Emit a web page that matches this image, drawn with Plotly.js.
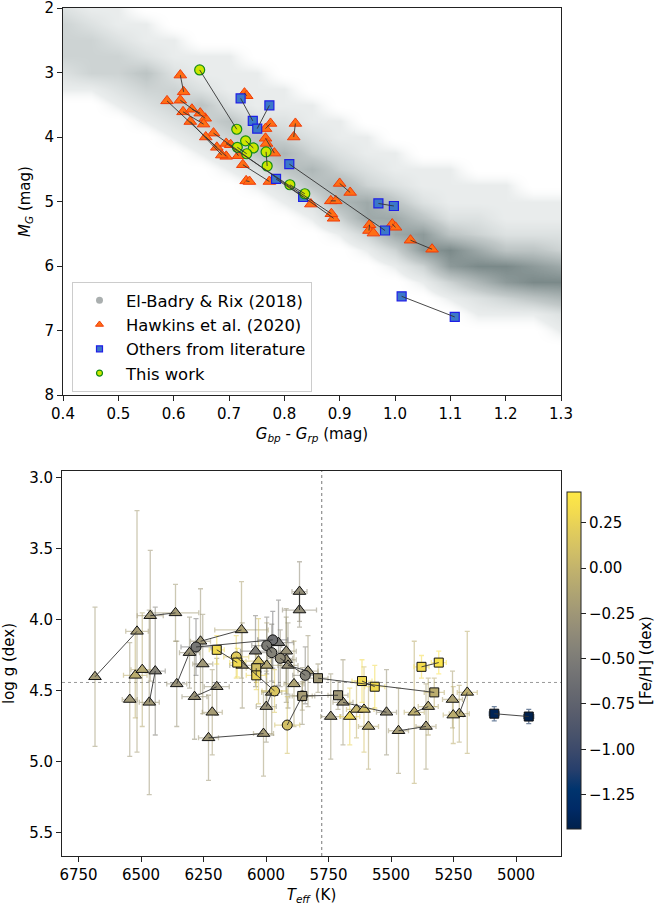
<!DOCTYPE html>
<html><head><meta charset="utf-8">
<script src="https://cdn.plot.ly/plotly-3.0.1.min.js"></script>
<style>html,body{margin:0;padding:0;background:#fff}#chart{width:658px;height:906px}</style>
</head><body><div id="chart"></div>
<script>
// ---------- Top panel: background density of El-Badry & Rix (2018) sample ----------
const bgColour = [0.40,0.45,0.50,0.55,0.60,0.65,0.70,0.75,0.80,0.85,0.90,0.95,1.00,1.05,1.10,1.15,1.20,1.25,1.30];
const bgMag = [2.00,2.25,2.50,2.75,3.00,3.25,3.50,3.75,4.00,4.25,4.50,4.75,5.00,5.25,5.50,5.75,6.00,6.25,6.50,6.75,7.00,7.25,7.50,7.75,8.00];
const bgDensityRows = [
"2110000000000000000",
"3211000000000000000",
"3321100000000000000",
"3332111000000000000",
"2334211100000000000",
"1123321110000000000",
"0012342111000000000",
"0001234221100000000",
"0000123432110000000",
"0000012453211000000",
"0000001245321110000",
"0000000124532111100",
"0000000012564211111",
"0000000001366422111",
"0000000000136743222",
"0000000000013786443",
"0000000000001378876",
"0000000000000135788",
"0000000000000012345",
"0000000000000001112",
"0000000000000000001",
"0000000000000000000",
"0000000000000000000",
"0000000000000000000",
"0000000000000000000"];

// ---------- Top panel: Hawkins et al. (2020) ----------
const hawkColour = [0.612,0.618,0.588,0.695,0.612,0.657,0.617,0.654,0.633,0.648,0.630,0.687,0.728,0.732,0.672,0.889,0.658,0.678,0.695,0.885,0.703,0.717,0.725,0.773,0.782,0.766,0.775,0.766,0.768,0.731,0.737,0.820,0.817,0.900,0.919,0.848,0.884,0.893,0.954,0.953,0.961,0.995,1.001,1.028,1.067];
const hawkMag    = [3.04,3.30,3.44,4.30,3.43,3.71,3.61,3.80,3.57,3.63,3.76,4.28,3.32,3.36,3.94,5.26,4.00,4.16,4.10,5.19,4.12,4.29,4.43,4.69,4.25,4.02,3.79,3.87,4.10,4.68,4.69,3.79,4.00,4.72,4.86,5.04,4.99,4.99,5.36,5.45,5.49,5.35,5.40,5.60,5.74];
const hawkPair   = [1,1,2,2,3,3,4,4,5,5,6,6,7,7,8,8,9,9,10,10,11,11,12,12,13,13,14,14,0,15,15,16,16,17,17,0,18,18,19,19,0,20,20,21,21];

// ---------- Top panel: Others from literature ----------
const otherColour = [0.721,0.773,0.743,0.751,0.809,0.785,0.834,0.970,0.998,0.982,1.012,1.108];
const otherMag    = [3.40,3.51,3.75,3.87,4.42,4.65,4.93,5.03,5.07,5.45,6.47,6.79];
const otherPair   = [1,2,1,2,3,4,4,5,5,3,6,6];

// ---------- Top panel: This work ----------
const thisColour = [0.647,0.714,0.730,0.715,0.744,0.732,0.767,0.769,0.810,0.837];
const thisMag    = [2.96,3.88,4.06,4.16,4.17,4.26,4.23,4.45,4.74,4.88];
const thisPair   = [1,1,2,3,2,3,4,4,5,5];

// ---------- Bottom panel: Hawkins et al. (2020) ----------
const hawkTeff    = [6684,6516,6463,6362,6523,6495,6443,6467,6545,6357,6306,6262,6098,6253,6095,5997,6030,6042,5950,5919,5919,5912,5866,5866,5832,5888,5977,5999,6286,6197,6230,6010,6215,5741,5692,5518,5638,5608,5665,5407,5351,5254,5195,5227,5251,5590,5470,5360];
const hawkLogg    = [4.40,4.08,3.97,3.95,4.39,4.35,4.36,4.58,4.56,4.45,4.23,4.15,4.07,4.31,4.32,4.32,4.29,4.22,4.16,4.22,4.28,4.32,3.80,3.93,4.36,4.45,4.51,4.61,4.54,4.47,4.83,4.80,4.65,4.68,4.58,4.65,4.63,4.63,4.68,4.65,4.61,4.56,4.51,4.66,4.67,4.75,4.78,4.75];
const hawkFeh     = [-0.22,-0.20,-0.24,-0.22,-0.05,-0.10,-0.45,-0.25,-0.25,-0.30,-0.30,-0.25,-0.15,-0.25,-0.25,-0.12,0.10,-0.50,-0.55,-0.30,-0.30,-0.30,-0.35,-0.35,-0.25,-0.15,-0.30,-0.30,-0.30,-0.30,-0.25,-0.20,-0.20,-0.25,-0.25,-0.30,0.00,0.10,0.25,-0.05,-0.10,-0.15,-0.05,-0.10,-0.05,-0.10,-0.20,-0.20];
const hawkTeffErr = [0,45,52,93,47,45,40,40,30,40,40,40,107,40,50,60,50,60,60,40,40,40,30,68,40,40,40,40,50,50,40,40,40,40,40,40,40,40,40,40,40,40,40,40,40,40,40,40];
const hawkLoggErr = [0.49,0.85,0.46,0.20,0.30,0.40,0.45,0.65,0.40,0.30,0.25,0.37,0.34,0.35,0.30,0.30,0.30,0.25,0.30,0.30,0.30,0.30,0.21,0.12,0.25,0.30,0.30,0.25,0.30,0.20,0.30,0.30,0.30,0.30,0.30,0.30,0.20,0.30,0.20,0.50,0.20,0.20,0.43,0.20,0.20,0.30,0.30,0.30];
const hawkPairB   = [1,1,2,2,0,0,3,3,0,4,4,5,5,0,0,0,0,0,0,0,0,6,7,7,6,0,8,8,9,9,10,10,0,0,11,11,0,0,0,12,12,0,13,13,0,0,14,14];

// ---------- Bottom panel: This work ----------
const thisTeff    = [6280,5973,5997,5977,5943,5843,6119,5966,5855,5915];
const thisLogg    = [4.19,4.14,4.18,4.23,4.27,4.39,4.26,4.50,4.535,4.74];
const thisFeh     = [-0.55,-0.62,-0.50,-0.45,-0.35,-0.45,0.20,0.15,-0.30,0.10];
const thisTeffErr = [60,60,60,60,50,50,50,50,50,50];
const thisLoggErr = [0.20,0.20,0.20,0.20,0.20,0.20,0.15,0.15,0.20,0.20];
const thisPairB   = [1,1,2,2,3,3,4,4,5,5];

// ---------- Bottom panel: Others from literature ----------
const otherTeff    = [6197,6115,6039,6039,5792,5327,5616,5565,5378,5309,5855,5712,5087,4949];
const otherLogg    = [4.21,4.30,4.34,4.39,4.41,4.51,4.43,4.47,4.33,4.30,4.535,4.53,4.66,4.68];
const otherFeh     = [0.30,0.30,0.10,0.25,-0.25,-0.05,0.30,0.30,0.32,0.38,-0.20,-0.25,-1.40,-1.43];
const otherTeffErr = [30,30,40,40,40,40,40,40,30,30,40,40,20,20];
const otherLoggErr = [0.10,0.10,0.10,0.10,0.10,0.10,0.15,0.15,0.08,0.08,0.10,0.10,0.05,0.05];
const otherPairB   = [1,1,2,2,3,3,4,4,5,5,6,6,7,7];

// ---------- Ticks ----------
const topXTicks = [0.4,0.5,0.6,0.7,0.8,0.9,1.0,1.1,1.2,1.3];
const topYTicks = [2,3,4,5,6,7,8];
const botXTicks = [6750,6500,6250,6000,5750,5500,5250,5000];
const botYTicks = [3.0,3.5,4.0,4.5,5.0,5.5];
const cbTicks   = [-1.25,-1.00,-0.75,-0.50,-0.25,0.00,0.25];

// ---------- style ----------
const FONT = 'DejaVu Sans, Liberation Sans, sans-serif';
const CMIN = -1.44, CMAX = 0.42;
const cividis = [[0,'rgb(0,32,76)'],[0.058824,'rgb(0,42,102)'],[0.117647,'rgb(0,52,110)'],[0.176471,'rgb(39,63,108)'],[0.235294,'rgb(60,74,107)'],[0.294118,'rgb(76,85,107)'],[0.352941,'rgb(91,95,109)'],[0.411765,'rgb(104,106,112)'],[0.470588,'rgb(117,117,117)'],[0.529412,'rgb(131,129,120)'],[0.588235,'rgb(146,140,120)'],[0.647059,'rgb(161,152,118)'],[0.705882,'rgb(176,165,114)'],[0.764706,'rgb(192,177,109)'],[0.823529,'rgb(209,191,102)'],[0.882353,'rgb(225,204,92)'],[0.941176,'rgb(243,219,79)'],[1,'rgb(255,233,69)']];
function cmap(v, a){
  let t = Math.max(0, Math.min(1, (v-CMIN)/(CMAX-CMIN)));
  for (let i=1;i<cividis.length;i++){
    if (t <= cividis[i][0]){
      const t0=cividis[i-1][0], t1=cividis[i][0];
      const c0=cividis[i-1][1].match(/\d+/g).map(Number), c1=cividis[i][1].match(/\d+/g).map(Number);
      const f=(t-t0)/(t1-t0);
      const c=c0.map((x,k)=>Math.round(x+(c1[k]-x)*f));
      return `rgba(${c[0]},${c[1]},${c[2]},${a})`;
    }
  }
  return `rgba(255,233,69,${a})`;
}
function pairLines(xs, ys, pairs, xa, ya){
  const groups = {};
  pairs.forEach((p,i)=>{ if(p>0){ (groups[p]=groups[p]||[]).push(i);} });
  const lx=[], ly=[];
  Object.keys(groups).forEach(k=>{ const g=groups[k]; if(g.length>1){ g.forEach(i=>{lx.push(xs[i]);ly.push(ys[i]);}); lx.push(null); ly.push(null);} });
  return {x:lx,y:ly,mode:'lines',line:{color:'#333',width:0.9},xaxis:xa,yaxis:ya,showlegend:false,hoverinfo:'skip'};
}

const traces = [];
// background density (smoothed image)
traces.push({type:'heatmap', x:bgColour, y:bgMag, z:bgDensityRows.map(r=>r.split('').map(Number)),
  zmin:0, zmax:8, zsmooth:'best', showscale:false, hoverinfo:'skip', xaxis:'x', yaxis:'y',
  colorscale:[[0,'rgba(255,255,255,0)'],[0.12,'rgba(208,215,215,0.45)'],[0.45,'rgba(168,178,178,0.7)'],[1,'rgba(108,124,124,0.9)']]});
// top markers
const hawkStyle = {symbol:'triangle-up', size:11, color:'rgb(255,110,20)', line:{color:'rgb(240,60,10)', width:1}};
const otherStyle = {symbol:'square', size:9, color:'rgb(60,120,200)', line:{color:'rgb(30,30,230)', width:1.2}};
const thisStyle = {symbol:'circle', size:10, color:'rgb(205,230,0)', line:{color:'rgb(20,140,20)', width:1.2}};
traces.push({x:hawkColour, y:hawkMag, mode:'markers', marker:hawkStyle, xaxis:'x', yaxis:'y', showlegend:false});
traces.push({x:otherColour, y:otherMag, mode:'markers', marker:otherStyle, xaxis:'x', yaxis:'y', showlegend:false});
traces.push({x:thisColour, y:thisMag, mode:'markers', marker:thisStyle, xaxis:'x', yaxis:'y', showlegend:false});
traces.push(pairLines(hawkColour, hawkMag, hawkPair, 'x','y'));
traces.push(pairLines(otherColour, otherMag, otherPair, 'x','y'));
traces.push(pairLines(thisColour, thisMag, thisPair, 'x','y'));
// legend entries
traces.push({x:[null], y:[null], mode:'markers', name:'El-Badry &amp; Rix (2018)', marker:{symbol:'circle', size:7, color:'rgb(170,175,175)'}, xaxis:'x', yaxis:'y'});
traces.push({x:[null], y:[null], mode:'markers', name:'Hawkins et al. (2020)', marker:Object.assign({},hawkStyle,{size:7}), xaxis:'x', yaxis:'y'});
traces.push({x:[null], y:[null], mode:'markers', name:'Others from literature', marker:Object.assign({},otherStyle,{size:6}), xaxis:'x', yaxis:'y'});
traces.push({x:[null], y:[null], mode:'markers', name:'This work', marker:Object.assign({},thisStyle,{size:6}), xaxis:'x', yaxis:'y'});

// bottom error bars
function errTraces(T,G,F,ET,EG){
  T.forEach((t,i)=>{
    const c = cmap(F[i],0.55);
    traces.push({x:[t], y:[G[i]], mode:'markers', marker:{size:1, opacity:0}, xaxis:'x2', yaxis:'y2', showlegend:false, hoverinfo:'skip',
      error_x:{type:'data', array:[ET[i]], visible:ET[i]>0, color:c, thickness:1.3, width:2.5},
      error_y:{type:'data', array:[EG[i]], visible:EG[i]>0, color:c, thickness:1.3, width:2.5}});
  });
}
errTraces(hawkTeff,hawkLogg,hawkFeh,hawkTeffErr,hawkLoggErr);
errTraces(thisTeff,thisLogg,thisFeh,thisTeffErr,thisLoggErr);
errTraces(otherTeff,otherLogg,otherFeh,otherTeffErr,otherLoggErr);
function colMarker(sym,size,F,show){
  const m = {symbol:sym, size:size, color:F, colorscale:cividis, cmin:CMIN, cmax:CMAX, line:{color:'#111', width:1}};
  if (show){
    m.showscale = true;
    m.colorbar = {x:567/658, xanchor:'left', xpad:0, y:1-660.5/906, yanchor:'middle', ypad:0,
      thickness:14, thicknessmode:'pixels', len:337, lenmode:'pixels', outlinewidth:1, outlinecolor:'#222',
      tickvals:cbTicks, ticktext:cbTicks.map(v=>(v<0?'\u2212':'')+Math.abs(v).toFixed(2)),
      ticks:'outside', ticklen:5, tickcolor:'#222', tickfont:{size:15, family:FONT, color:'#000'},
      title:{text:'[Fe/H] (dex)', side:'right', font:{size:15, family:FONT, color:'#000'}}};
  }
  return m;
}
traces.push({x:hawkTeff, y:hawkLogg, mode:'markers', marker:colMarker('triangle-up',11,hawkFeh,true), xaxis:'x2', yaxis:'y2', showlegend:false});
traces.push({x:thisTeff, y:thisLogg, mode:'markers', marker:colMarker('circle',10,thisFeh,false), xaxis:'x2', yaxis:'y2', showlegend:false});
traces.push({x:otherTeff, y:otherLogg, mode:'markers', marker:colMarker('square',9,otherFeh,false), xaxis:'x2', yaxis:'y2', showlegend:false});
traces.push(pairLines(hawkTeff, hawkLogg, hawkPairB, 'x2','y2'));
traces.push(pairLines(thisTeff, thisLogg, thisPairB, 'x2','y2'));
traces.push(pairLines(otherTeff, otherLogg, otherPairB, 'x2','y2'));

const axBase = {showline:true, mirror:true, linecolor:'#222', linewidth:1, ticks:'outside', ticklen:5, tickcolor:'#222',
  showgrid:false, zeroline:false, tickfont:{size:15, family:FONT, color:'#000'}, automargin:false, ticklabeloverflow:'allow'};
const layout = {
  width:658, height:906, margin:{l:0,r:0,t:0,b:0}, paper_bgcolor:'#fff', plot_bgcolor:'rgba(0,0,0,0)',
  font:{family:FONT, size:15, color:'#000'},
  xaxis:Object.assign({}, axBase, {domain:[63/658, 561/658], range:[0.4,1.3], anchor:'y', tickvals:topXTicks, ticktext:topXTicks.map(v=>v.toFixed(1)),
    title:{text:'<i>G<sub>bp</sub></i> - <i>G<sub>rp</sub></i> (mag)', font:{size:15, family:FONT}, standoff:6}}),
  yaxis:Object.assign({}, axBase, {domain:[1-395/906, 1-8/906], range:[8.0,2.0], anchor:'x', tickvals:topYTicks, ticktext:topYTicks.map(String),
    title:{text:'<i>M<sub>G</sub></i> (mag)', font:{size:15, family:FONT}, standoff:10}}),
  xaxis2:Object.assign({}, axBase, {domain:[62/658, 561/658], range:[6816,4820], anchor:'y2', tickvals:botXTicks,
    title:{text:'<i>T<sub>eff</sub></i> (K)', font:{size:15, family:FONT}, standoff:6}}),
  yaxis2:Object.assign({}, axBase, {domain:[1-856/906, 1-471/906], range:[5.662,2.951], anchor:'x2', tickvals:botYTicks, ticktext:botYTicks.map(v=>v.toFixed(1)),
    title:{text:'log g (dex)', font:{size:15, family:FONT}, standoff:10}}),
  legend:{x:72/658, y:1-282/906, xanchor:'left', yanchor:'top', bgcolor:'rgba(255,255,255,0.85)', bordercolor:'#ccc', borderwidth:1,
    itemwidth:43, font:{size:16.4, family:FONT, color:'#000'}},
  shapes:[
    {type:'line', xref:'x2', yref:'y2 domain', x0:5777, x1:5777, y0:0, y1:1, line:{color:'#777', width:1, dash:'dot'}, layer:'below'},
    {type:'line', xref:'x2 domain', yref:'y2', x0:0, x1:1, y0:4.44, y1:4.44, line:{color:'#999', width:1, dash:'dot'}, layer:'below'}
  ]
};
Plotly.newPlot('chart', traces, layout, {staticPlot:true, displayModeBar:false});
</script></body></html>
